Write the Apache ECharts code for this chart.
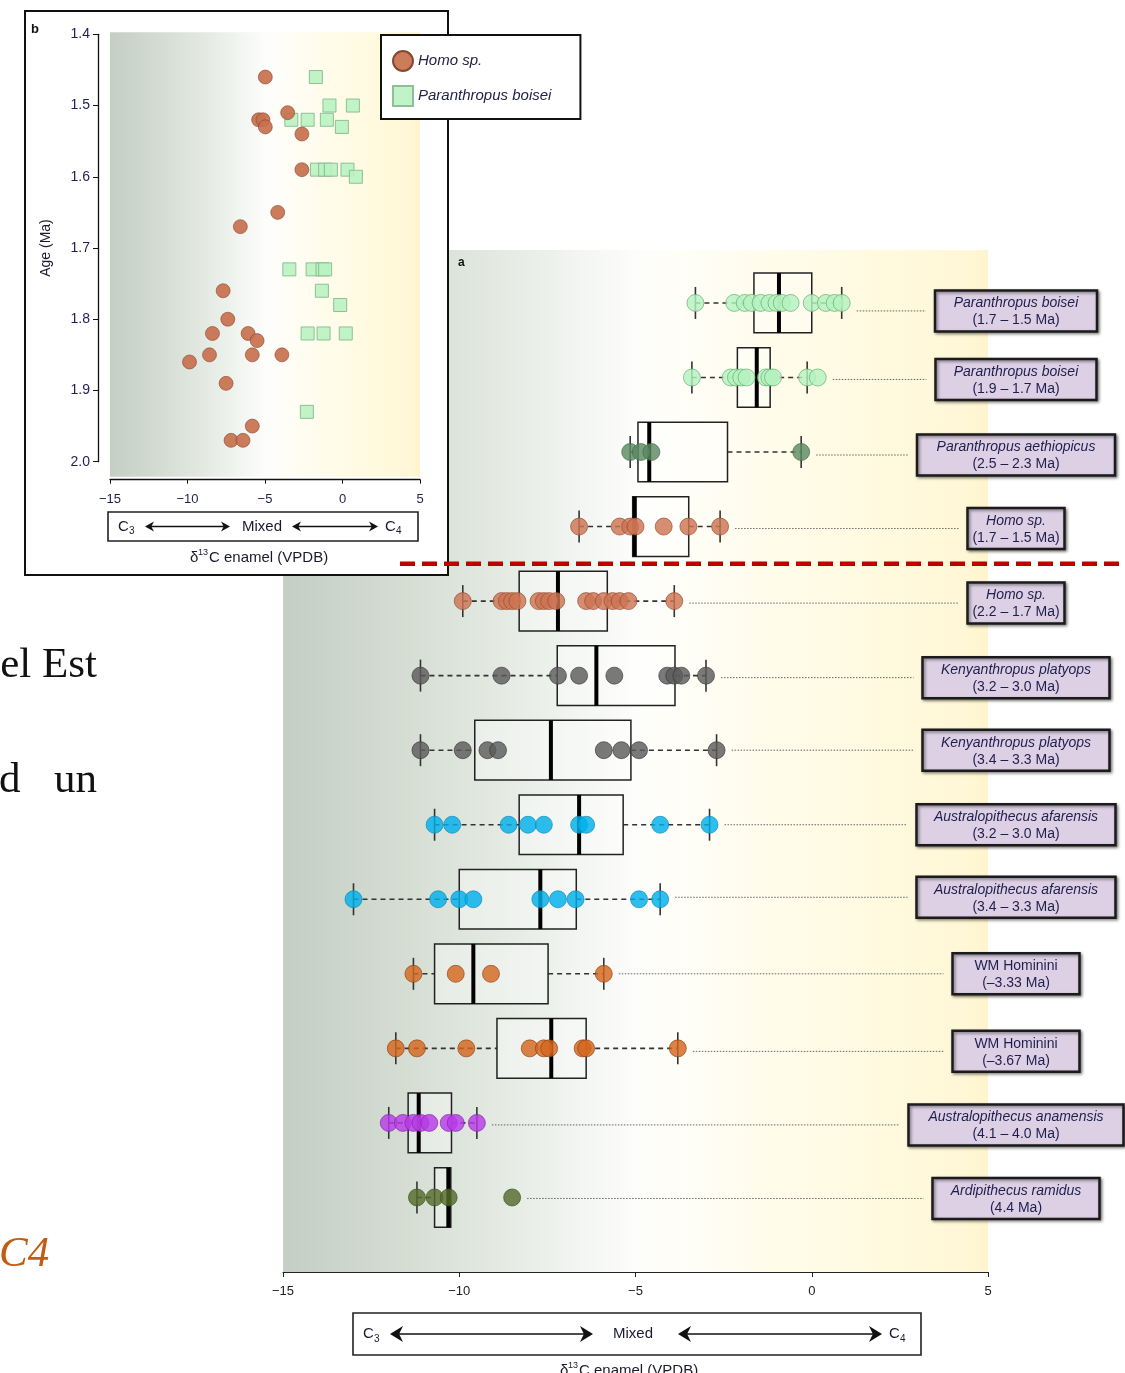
<!DOCTYPE html>
<html>
<head>
<meta charset="utf-8">
<script src="https://cdn.jsdelivr.net/npm/echarts@6/dist/echarts.min.js"></script>
<style>
html, body { margin: 0; padding: 0; background: #fff; }
#chart { width: 1125px; height: 1373px; }
</style>
</head>
<body>
<div id="chart"></div>
<script>
// ---- panel a : δ13C per hominin group (rows top -> bottom) ----
const groupNames = ['Paranthropus boisei', 'Paranthropus boisei', 'Paranthropus aethiopicus', 'Homo sp.', 'Homo sp.',
  'Kenyanthropus platyops', 'Kenyanthropus platyops', 'Australopithecus afarensis', 'Australopithecus afarensis',
  'WM Hominini', 'WM Hominini', 'Australopithecus anamensis', 'Ardipithecus ramidus'];
const groupAges = ['(1.7 – 1.5 Ma)', '(1.9 – 1.7 Ma)', '(2.5 – 2.3 Ma)', '(1.7 – 1.5 Ma)', '(2.2 – 1.7 Ma)',
  '(3.2 – 3.0 Ma)', '(3.4 – 3.3 Ma)', '(3.2 – 3.0 Ma)', '(3.4 – 3.3 Ma)', '(–3.33 Ma)', '(–3.67 Ma)',
  '(4.1 – 4.0 Ma)', '(4.4 Ma)'];
const whiskerLow  = [-3.3, -3.4, -5.15, -6.6, -9.9, -11.1, -11.1, -10.7, -13.0, -11.3, -11.8, -12.0, -11.2];
const quart1      = [-1.64, -2.11, -4.93, -5.08, -8.3, -7.22, -9.56, -8.3, -10.0, -10.7, -8.93, -11.45, -10.7];
const medians     = [-0.93, -1.56, -4.61, -5.02, -7.2, -6.11, -7.4, -6.6, -7.7, -9.6, -7.39, -11.15, -10.31];
const quart3      = [0.0, -1.18, -2.39, -3.49, -5.8, -3.88, -5.13, -5.35, -6.68, -7.48, -6.4, -10.22, -10.24];
const whiskerHigh = [0.85, -0.13, -0.3, -2.6, -3.9, -3.0, -2.7, -2.9, -4.3, -5.9, -3.8, -9.5, -10.24];

const boisei_17_15  = [-3.3, -2.2, -1.9, -1.7, -1.45, -1.2, -1.0, -0.85, -0.6, 0.0, 0.4, 0.65, 0.85];
const boisei_19_17  = [-3.4, -2.3, -2.15, -2.0, -1.85, -1.3, -1.2, -1.1, -0.13, 0.17];
const aethiopicus   = [-5.15, -4.85, -4.55, -0.3];
const homo_17_15    = [-6.6, -5.45, -5.15, -5.0, -4.2, -3.5, -2.6];
const homo_22_17    = [-9.9, -8.8, -8.65, -8.5, -8.35, -7.75, -7.6, -7.45, -7.25, -6.4, -6.2, -5.9, -5.65, -5.45, -5.2, -3.9];
const platyops_32_30 = [-11.1, -8.8, -7.2, -6.6, -5.6, -4.1, -3.9, -3.7, -3.0];
const platyops_34_33 = [-11.1, -9.9, -9.2, -8.9, -5.9, -5.4, -4.9, -2.7];
const afarensis_32_30 = [-10.7, -10.2, -8.6, -8.05, -7.6, -6.6, -6.4, -4.3, -2.9];
const afarensis_34_33 = [-13.0, -10.6, -10.0, -9.6, -7.7, -7.2, -6.7, -4.9, -4.3];
const wm_333        = [-11.3, -10.1, -9.1, -5.9];
const wm_367        = [-11.8, -11.2, -9.8, -8.0, -7.6, -7.45, -6.5, -6.4, -3.8];
const anamensis     = [-12.0, -11.6, -11.3, -11.1, -10.85, -10.3, -10.1, -9.5];
const ramidus       = [-11.2, -10.7, -10.3, -8.5];
const rowPoints = [boisei_17_15, boisei_19_17, aethiopicus, homo_17_15, homo_22_17, platyops_32_30, platyops_34_33,
  afarensis_32_30, afarensis_34_33, wm_333, wm_367, anamensis, ramidus];
const dividerRow = 3.5;
const xTicks = [-15, -10, -5, 0, 5];

// ---- panel b : age vs δ13C ----
const homoD13C = [-4.98, -3.54, -5.41, -5.13, -4.98, -2.62, -2.62, -4.18, -6.59, -7.70, -7.40, -8.39, -6.09, -5.51, -9.87, -8.58, -5.82, -3.91, -7.51, -5.82, -7.19, -6.42];
const homoAge  = [1.46, 1.51, 1.52, 1.52, 1.53, 1.54, 1.59, 1.65, 1.67, 1.76, 1.80, 1.82, 1.82, 1.83, 1.86, 1.85, 1.85, 1.85, 1.89, 1.95, 1.97, 1.97];
const boiseiD13C = [-1.72, -0.84, 0.67, -3.30, -2.25, -1.01, -0.04, -1.65, -1.12, -0.75, 0.32, 0.86, -3.43, -1.93, -1.29, -1.12, -1.33, -0.15, -2.25, -1.22, 0.21, -2.30];
const boiseiAge  = [1.46, 1.50, 1.50, 1.52, 1.52, 1.52, 1.53, 1.59, 1.59, 1.59, 1.59, 1.60, 1.73, 1.73, 1.73, 1.73, 1.76, 1.78, 1.82, 1.82, 1.82, 1.93];

// styles
const F = "'Liberation Sans Narrow', 'Liberation Sans', Arial, sans-serif";
const FS = "'Liberation Sans', Arial, sans-serif";
const rowFill = ['#b4f2c0', '#b4f2c0', '#5b8a63', '#cd7452', '#cd7452', '#5c5c5c', '#5c5c5c', '#00b0ea', '#00b0ea',
  '#d4671e', '#d4671e', '#b73ae6', '#566b2c'];
const rowBorder = ['#5fa86a', '#5fa86a', '#3d6a45', '#8e4a30', '#8e4a30', '#383838', '#383838', '#0a86b5', '#0a86b5',
  '#8a4010', '#8a4010', '#8420aa', '#3d4f1d'];
const labelWidth = [162, 161, 198, 97, 97, 187, 187, 199, 199, 127, 127, 215, 167];
const labelShift = [8, 2, 3, 2, 2, 2, 0, 0, -2, 0, 3, 2, 1];
const labelX = 1016;

const bgStops = [
  { offset: 0, color: '#c4cec3' },
  { offset: 0.18, color: '#d6ded4' },
  { offset: 0.35, color: '#e9eee8' },
  { offset: 0.5, color: '#fdfdfc' },
  { offset: 0.58, color: '#fffef6' },
  { offset: 0.75, color: '#fffbe6' },
  { offset: 0.97, color: '#fff7d6' },
  { offset: 1, color: '#fff4cc' }
];

const minus = v => (v < 0 ? '−' + Math.abs(v) : String(v));

function renderBox(params, api) {
  const i = api.value(0);
  const mn = api.value(1), q1 = api.value(2), md = api.value(3), q3 = api.value(4), mx = api.value(5);
  const y = api.coord([0, i])[1];
  const X = v => api.coord([v, i])[0];
  const hh = api.size([0, 0.8])[1] / 2;
  const dash = { stroke: '#333', lineWidth: 1.6, lineDash: [5, 4] };
  const tick = { stroke: '#333', lineWidth: 1.6 };
  const kids = [];
  kids.push({ type: 'line', shape: { x1: X(mn), y1: y, x2: X(q1), y2: y }, style: dash });
  kids.push({ type: 'line', shape: { x1: X(mn), y1: y - 16, x2: X(mn), y2: y + 16 }, style: tick });
  if (mx > q3) {
    kids.push({ type: 'line', shape: { x1: X(q3), y1: y, x2: X(mx), y2: y }, style: dash });
    kids.push({ type: 'line', shape: { x1: X(mx), y1: y - 16, x2: X(mx), y2: y + 16 }, style: tick });
  }
  kids.push({ type: 'rect', shape: { x: X(q1), y: y - hh, width: X(q3) - X(q1), height: 2 * hh },
    style: { fill: 'rgba(255,255,255,0.35)', stroke: '#222', lineWidth: 1.5 } });
  kids.push({ type: 'line', shape: { x1: X(md), y1: y - hh, x2: X(md), y2: y + hh }, style: { stroke: '#000', lineWidth: 4 } });
  return { type: 'group', children: kids };
}

function renderLabel(params, api) {
  const i = api.value(0);
  const y = api.coord([0, i])[1];
  const xs = api.coord([api.value(1), i])[0] + 15;
  const w = labelWidth[i];
  const yc = y + labelShift[i];
  const left = labelX - w / 2;
  const ital = groupNames[i].indexOf('WM') === 0 ? 'normal' : 'italic';
  return {
    type: 'group',
    children: [
      { type: 'line', shape: { x1: xs, y1: yc, x2: left - 9, y2: yc }, style: { stroke: '#666', lineWidth: 1, lineDash: [1.5, 1.5] } },
      { type: 'rect', shape: { x: left, y: yc - 20.5, width: w, height: 41 },
        style: { fill: '#ddd0e5', stroke: '#1b1b1b', lineWidth: 2.5, shadowBlur: 3, shadowOffsetX: 1.5, shadowOffsetY: 1.5, shadowColor: 'rgba(0,0,0,0.45)' } },
      { type: 'text', x: labelX, y: yc + 1,
        style: {
          text: '{n|' + groupNames[i] + '}\n{a|' + groupAges[i] + '}',
          align: 'center', verticalAlign: 'middle',
          rich: {
            n: { fontStyle: ital, fontSize: 14, fontFamily: F, fill: '#1f1f4d', lineHeight: 17 },
            a: { fontSize: 14, fontFamily: F, fill: '#1f1f4d', lineHeight: 17 }
          }
        } }
    ]
  };
}

function arrow(x1, x2, y, hl, hw) {
  return [
    { type: 'line', z: 5, shape: { x1: x1 + hl * 0.6, y1: y, x2: x2 - hl * 0.6, y2: y }, style: { stroke: '#111', lineWidth: 1.6 } },
    { type: 'polygon', z: 5, shape: { points: [[x1, y], [x1 + hl, y - hw], [x1 + hl * 0.7, y], [x1 + hl, y + hw]] }, style: { fill: '#111' } },
    { type: 'polygon', z: 5, shape: { points: [[x2, y], [x2 - hl, y - hw], [x2 - hl * 0.7, y], [x2 - hl, y + hw]] }, style: { fill: '#111' } }
  ];
}

function txt(x, y, text, size, opt) {
  const o = opt || {};
  return {
    type: 'text', z: 5, x: x, y: y, rotation: o.rot || 0,
    style: {
      text: text, fontSize: size, fontFamily: o.family || FS, fontStyle: o.style || 'normal', fontWeight: o.weight || 'normal',
      fill: o.color || '#1a1a2e', align: o.align || 'left', textAlign: o.align || 'left',
      verticalAlign: o.va || 'middle', textVerticalAlign: o.va || 'middle'
    }
  };
}

function scaleBox(x, y, w, h, c3x, a1, mixX, a2, c4x, hl, hw) {
  const cy = y + h / 2;
  return [
    { type: 'rect', z: 5, shape: { x: x, y: y, width: w, height: h }, style: { fill: '#fff', stroke: '#222', lineWidth: 1.6 } },
    txt(c3x, cy, 'C', 15), txt(c3x + 11, cy + 5, '3', 10),
    ...arrow(a1[0], a1[1], cy, hl, hw),
    txt(mixX, cy, 'Mixed', 15, { align: 'center' }),
    ...arrow(a2[0], a2[1], cy, hl, hw),
    txt(c4x, cy, 'C', 15), txt(c4x + 11, cy + 5, '4', 10)
  ];
}

function d13cTitle(x, y) {
  return [txt(x, y, 'δ', 15), txt(x + 8, y - 5, '13', 9), txt(x + 19, y, 'C enamel (VPDB)', 15)];
}

const graphics = [
  // panel b frame
  { type: 'rect', z: 1, shape: { x: 25, y: 11, width: 423, height: 564 }, style: { fill: '#fff', stroke: '#111', lineWidth: 2 } },
  txt(31, 29, 'b', 13, { weight: 'bold', color: '#111' }),
  txt(46, 248, 'Age (Ma)', 14, { align: 'center', rot: Math.PI / 2 }),
  ...scaleBox(108, 512, 310, 29, 118, [145, 230], 262, [292, 378], 385, 9, 5),
  ...d13cTitle(190, 558),
  // panel a annotations
  txt(458, 263, 'a', 12, { weight: 'bold', color: '#111' }),
  ...scaleBox(353, 1313, 568, 42, 363, [390, 593], 633, [678, 882], 889, 13, 8),
  ...d13cTitle(560, 1371),
  // surrounding page text
  txt(97, 666, 'el Est', 43, { family: "'Liberation Serif', 'DejaVu Serif', serif", align: 'right', color: '#111' }),
  txt(-1, 781, 'd', 43, { family: "'Liberation Serif', 'DejaVu Serif', serif", color: '#111' }),
  txt(97, 781, 'un', 43, { family: "'Liberation Serif', 'DejaVu Serif', serif", align: 'right', color: '#111' }),
  txt(-1, 1255, 'C4', 43, { family: "'Liberation Serif', 'DejaVu Serif', serif", style: 'italic', color: '#c55a11' })
];

const series = [];
series.push({
  type: 'custom', xAxisIndex: 0, yAxisIndex: 0, z: 3, silent: true,
  encode: { x: 1, y: 0 },
  data: groupNames.map((n, i) => [i, whiskerLow[i], quart1[i], medians[i], quart3[i], whiskerHigh[i]]),
  renderItem: renderBox
});
series.push({
  type: 'custom', xAxisIndex: 0, yAxisIndex: 0, z: 3, silent: true,
  encode: { x: 1, y: 0 },
  data: rowPoints.map((p, i) => [i, Math.max(...p)]),
  renderItem: renderLabel
});
rowPoints.forEach((pts, i) => {
  series.push({
    type: 'scatter', xAxisIndex: 0, yAxisIndex: 0, z: 4, silent: true,
    name: 'row' + i, symbolSize: 17,
    itemStyle: { color: rowFill[i], opacity: 0.82, borderColor: rowBorder[i], borderWidth: 0.8 },
    data: pts.map(v => [v, i])
  });
});
series.push({
  type: 'custom', xAxisIndex: 0, yAxisIndex: 0, z: 20, silent: true,
  data: [[0, dividerRow]],
  renderItem: (p, api) => {
    const y = api.coord([0, api.value(1)])[1];
    return { type: 'line', shape: { x1: 400, y1: y, x2: 1125, y2: y }, style: { stroke: '#c00000', lineWidth: 4.5, lineDash: [15, 7] } };
  }
});
// panel b background band
series.push({
  type: 'custom', xAxisIndex: 1, yAxisIndex: 1, z: 2, silent: true,
  data: [[-15, 1.4, 5, 2.0]],
  renderItem: (p, api) => {
    const a = api.coord([api.value(0), api.value(1)]);
    const b = api.coord([api.value(2), api.value(3)]);
    return { type: 'rect', shape: { x: a[0], y: a[1] - 2, width: b[0] - a[0], height: b[1] - a[1] + 17 },
      style: { fill: new echarts.graphic.LinearGradient(0, 0, 1, 0, bgStops) } };
  }
});
series.push({
  type: 'scatter', xAxisIndex: 1, yAxisIndex: 1, z: 5, name: 'Paranthropus boisei', symbol: 'rect', symbolSize: 13,
  itemStyle: { color: '#b9f3c2', opacity: 0.9, borderColor: '#86b98e', borderWidth: 1 },
  data: boiseiD13C.map((v, i) => [v, boiseiAge[i]])
});
series.push({
  type: 'scatter', xAxisIndex: 1, yAxisIndex: 1, z: 5, name: 'Homo sp.', symbol: 'circle', symbolSize: 14,
  itemStyle: { color: '#c8704d', opacity: 0.92, borderColor: '#7a4028', borderWidth: 0.6 },
  data: homoD13C.map((v, i) => [v, homoAge[i]])
});

const chart = echarts.init(document.getElementById('chart'), null, { renderer: 'canvas' });
chart.setOption({
  animation: false,
  backgroundColor: '#fff',
  grid: [
    { left: 283, width: 705, top: 250, height: 1022, show: true, borderWidth: 0, z: 0,
      backgroundColor: { type: 'linear', x: 0, y: 0, x2: 1, y2: 0, colorStops: bgStops } },
    { left: 110, width: 310, top: 34.3, height: 427.4, z: 3 }
  ],
  xAxis: [
    { gridIndex: 0, type: 'value', min: xTicks[0], max: xTicks[xTicks.length - 1], interval: 5, position: 'bottom',
      axisLine: { show: true, onZero: false, lineStyle: { color: '#222', width: 1.2 } },
      axisTick: { show: true, length: 5, lineStyle: { color: '#222' } },
      splitLine: { show: false },
      axisLabel: { fontSize: 13, color: '#222', margin: 13, fontFamily: FS, formatter: minus } },
    { gridIndex: 1, type: 'value', min: xTicks[0], max: xTicks[xTicks.length - 1], interval: 5, offset: 18, z: 3, position: 'bottom',
      axisLine: { show: true, onZero: false, lineStyle: { color: '#111', width: 1.3 } },
      axisTick: { show: true, length: 4, lineStyle: { color: '#111' } },
      splitLine: { show: false },
      axisLabel: { fontSize: 13, color: '#1d2050', margin: 13, fontFamily: FS, formatter: minus } }
  ],
  yAxis: [
    { gridIndex: 0, type: 'value', min: -0.71, max: 13, inverse: true, show: false },
    { gridIndex: 1, type: 'value', min: 1.4, max: 2.0, interval: 0.1, inverse: true, offset: 12, z: 3, position: 'left',
      axisLine: { show: true, onZero: false, lineStyle: { color: '#111', width: 1.3 } },
      axisTick: { show: true, length: 5, lineStyle: { color: '#111' } },
      splitLine: { show: false },
      axisLabel: { fontSize: 14, color: '#1d2050', margin: 8, fontFamily: FS, formatter: v => v.toFixed(1) } }
  ],
  legend: {
    left: 381, top: 35, orient: 'vertical', selectedMode: false, z: 8,
    data: [{ name: 'Homo sp.', icon: 'circle' }, { name: 'Paranthropus boisei', icon: 'rect' }],
    itemWidth: 20, itemHeight: 20, itemGap: 13,
    backgroundColor: '#fff', borderColor: '#111', borderWidth: 2, borderRadius: 0,
    padding: [15, 29, 12, 11],
    textStyle: { fontStyle: 'italic', fontSize: 15, color: '#22224a', fontFamily: FS }
  },
  graphic: graphics,
  series: series
});
</script>
</body>
</html>
